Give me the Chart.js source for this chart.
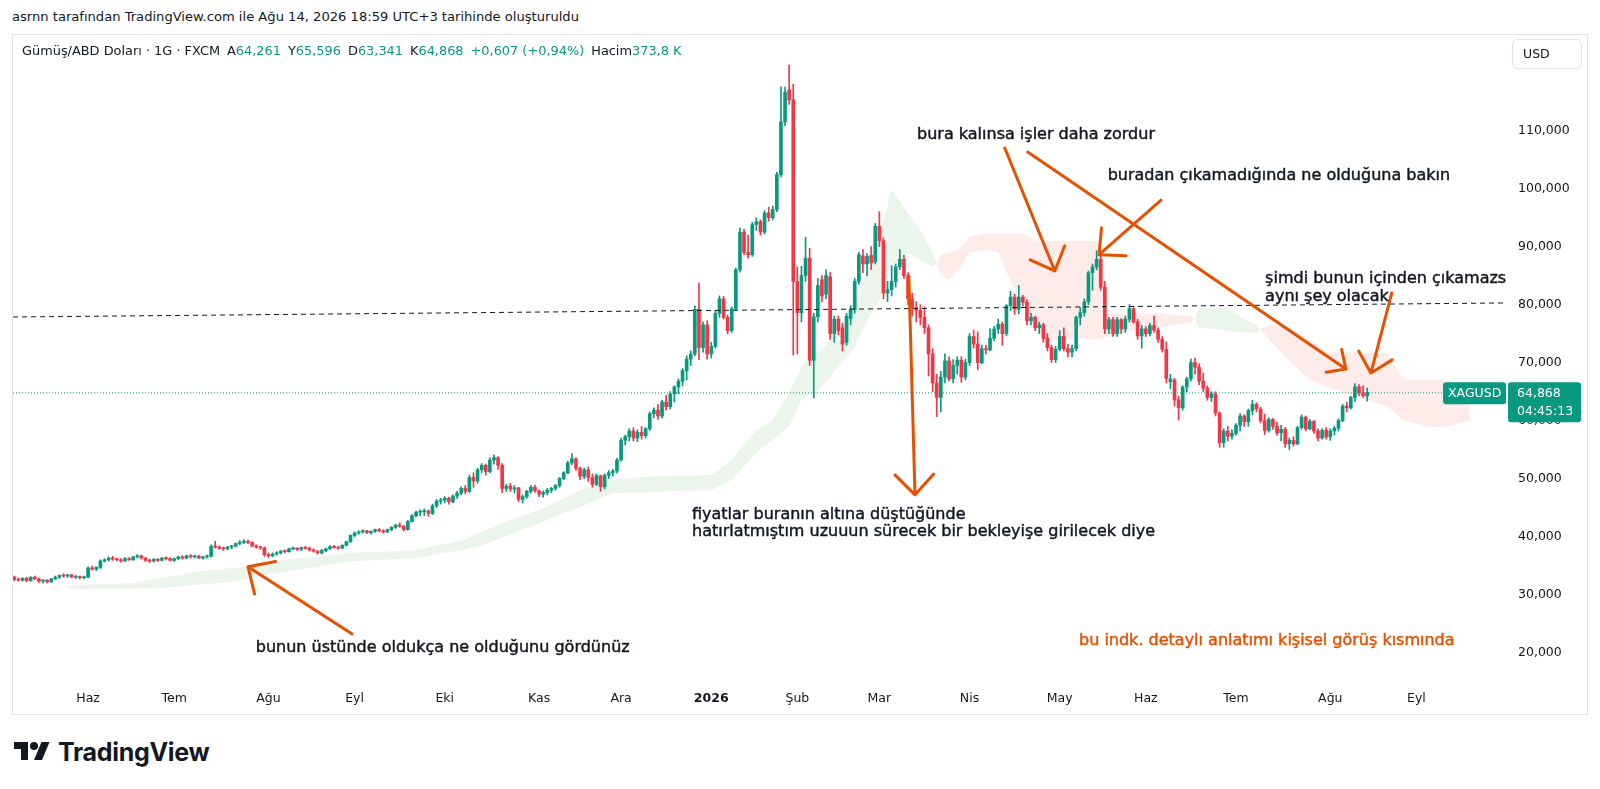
<!DOCTYPE html>
<html lang="tr">
<head>
<meta charset="utf-8">
<title>XAGUSD 1G</title>
<script src="https://cdn.jsdelivr.net/npm/chart.js@4.4.1/dist/chart.umd.min.js"></script>
<style>
  html, body { margin: 0; padding: 0; background: #fff; }
  body { width: 1600px; height: 789px; position: relative; overflow: hidden;
         font-family: "DejaVu Sans", sans-serif; color: #131722; }
  #title { position: absolute; left: 12px; top: 9px; font-size: 13.1px; line-height: 16px; white-space: nowrap; }
  #frame { position: absolute; left: 12px; top: 34px; width: 1576px; height: 681px;
           border: 1px solid #e0e3eb; box-sizing: border-box; }
  #wrap { position: absolute; left: 12px; top: 34px; width: 1576px; height: 681px; }
  #legend { position: absolute; left: 22px; top: 43px; font-size: 12.9px; line-height: 16px; white-space: nowrap; }
  #legend .g { color: #089981; }
  #legend .k { margin-left: 7px; }
  #usd { position: absolute; left: 1512px; top: 39px; width: 70px; height: 30px; box-sizing: border-box;
         border: 1px solid #e0e3eb; border-radius: 5px; font-size: 12.5px; line-height: 28px; padding-left: 10px; }
  #logo { position: absolute; left: 14px; top: 738px; height: 28px; display: flex; align-items: center; }
  #logo span { font-family: Inter, "DejaVu Sans", sans-serif; font-weight: 700; font-size: 25px;
               letter-spacing: -0.3px; margin-left: 8px; color: #131722; }
</style>
</head>
<body>
<div id="title">asrnn tarafından TradingView.com ile Ağu 14, 2026 18:59 UTC+3 tarihinde oluşturuldu</div>
<div id="frame"></div>
<div id="wrap"><canvas id="myChart" width="1576" height="681"></canvas></div>
<div id="legend">Gümüş/ABD Doları · 1G · FXCM<span class="k">A</span><span class="g">64,261</span><span class="k">Y</span><span class="g">65,596</span><span class="k">D</span><span class="g">63,341</span><span class="k">K</span><span class="g">64,868</span><span class="k g">+0,607 (+0,94%)</span><span class="k">Hacim</span><span class="g">373,8 K</span></div>
<div id="usd">USD</div>
<div id="logo">
  <svg width="36" height="28" viewBox="0 0 36 28"><path fill="#131722" d="M14 22H7V11H0V4h14v18zM28 22h-8l7.5-18h8L28 22z"/><circle fill="#131722" cx="20" cy="8" r="4"/></svg>
  <span>TradingView</span>
</div>
<script>
// gunluk mumlar, 7 May 2025 - 14 Agu 2026 (XAGUSD, FXCM)
var opens = [
  33.0,32.6,32.5,32.8,32.4,33.0,32.7,32.3,32.5,32.2, 32.7,33.0,33.3,33.2,33.4,33.0,33.1,32.9,33.0,34.6,
  34.4,34.7,35.8,36.0,36.3,36.1,36.0,35.8,36.2,36.0, 36.5,36.7,36.3,35.9,35.8,36.1,35.9,36.3,36.2,35.9,
  36.2,36.5,36.3,36.7,36.5,36.6,36.3,36.5,36.6,38.3, 38.2,38.0,37.9,38.2,38.4,38.8,39.0,39.2,39.0,38.4,
  38.2,38.1,36.9,36.7,37.0,37.2,37.5,37.4,37.9,38.0, 37.8,38.1,38.0,37.7,37.5,37.2,37.6,37.9,38.3,38.1,
  38.0,38.5,39.1,40.2,40.6,40.8,41.0,40.7,40.9,41.2, 41.0,40.8,41.2,41.6,42.0,41.8,41.2,42.6,43.6,44.2,
  44.3,44.4,44.0,45.3,46.1,46.3,46.6,46.0,47.0,47.5, 48.3,47.8,50.2,49.6,51.5,52.3,51.2,53.2,53.6,52.3,
  48.3,48.7,48.2,48.4,46.4,46.9,47.8,48.5,47.9,47.3, 47.6,48.0,48.3,48.8,50.0,51.0,52.7,53.4,51.8,50.4,
  51.5,50.2,49.0,50.5,48.6,50.6,51.0,51.3,53.2,56.6, 57.2,58.2,57.0,58.0,57.4,58.6,61.2,61.8,60.8,63.2,
  62.4,64.6,65.8,66.8,68.6,70.6,71.5,79.2,72.6,76.5, 71.5,72.8,78.5,81.0,77.8,75.5,79.3,86.0,92.5,89.0,
  88.6,93.8,94.3,92.5,95.8,95.0,96.4,102.4,111.5,117.0, 115.3,84.0,78.6,85.0,88.0,70.4,77.9,84.3,81.8,84.8,
  75.0,77.5,76.0,73.5,77.6,79.2,84.0,88.4,87.0,88.5, 87.4,93.5,91.0,82.0,82.6,84.0,86.5,87.8,85.0,81.0,
  79.5,79.0,77.8,76.0,71.5,66.5,64.0,67.5,70.3,67.2, 69.5,70.4,67.5,70.0,74.5,73.2,70.0,72.4,72.2,74.2,
  75.8,76.6,75.0,79.8,81.3,79.2,81.3,80.4,77.2,77.8, 76.0,76.5,74.2,72.6,70.5,72.3,74.5,72.4,71.8,72.4,
  77.8,78.6,80.5,85.5,86.5,87.8,83.0,75.8,77.4,75.0, 77.4,75.8,77.5,79.3,77.0,74.6,75.8,75.0,76.4,75.6,
  74.0,72.3,66.7,67.0,63.6,62.2,65.8,67.2,70.0,69.2, 66.8,65.6,64.0,64.6,61.3,56.2,58.2,57.3,57.8,59.2,
  60.8,59.8,61.7,62.8,62.0,60.0,58.3,60.2,59.0,57.9, 58.5,56.0,56.6,56.0,58.8,60.6,58.6,59.9,58.2,57.0,
  58.3,57.2,58.2,58.7,60.0,62.5,62.2,64.0,65.8,64.8, 64.261
];
var highs = [
  33.2,32.9,32.9,33.0,33.1,33.2,32.9,32.6,32.6,32.8, 33.2,33.4,33.6,33.5,33.5,33.3,33.2,33.2,34.8,34.9,
  34.8,36.0,36.2,36.5,36.6,36.3,36.2,36.4,36.4,36.6, 36.9,36.8,36.4,36.1,36.2,36.2,36.4,36.5,36.4,36.3,
  36.6,36.7,36.8,36.9,36.8,36.8,36.6,36.8,38.6,39.2, 38.4,38.2,38.3,38.5,38.9,39.3,39.5,39.4,39.1,38.6,
  38.3,38.2,37.2,37.2,37.4,37.6,37.7,38.0,38.2,38.1, 38.2,38.3,38.2,37.9,37.6,37.8,38.0,38.4,38.5,38.3,
  38.6,39.2,40.3,40.8,41.0,41.2,41.1,41.0,41.3,41.4, 41.2,41.3,41.7,42.1,42.4,41.9,42.8,43.8,44.4,44.6,
  44.8,44.6,45.6,46.4,46.6,46.9,46.8,47.2,47.8,48.6, 48.8,50.6,51.0,51.8,52.6,52.5,53.6,54.1,53.8,52.6,
  49.0,49.2,48.8,48.5,47.2,48.0,48.8,48.9,48.0,47.9, 48.3,48.5,49.0,50.2,51.2,53.0,54.3,53.6,52.0,51.8,
  52.0,50.8,50.8,50.6,50.8,51.4,51.6,53.5,57.0,57.5, 58.6,58.8,58.4,59.0,58.8,61.5,62.2,62.8,63.5,64.4,
  65.0,66.0,67.2,69.0,71.2,72.0,79.8,83.7,77.0,77.2, 73.5,79.0,81.5,81.4,78.2,79.6,86.3,93.2,93.0,92.0,
  94.2,95.0,94.6,96.2,96.8,97.0,102.8,117.5,117.5,121.3, 118.0,86.5,86.6,91.6,89.7,78.5,84.5,85.0,86.0,85.5,
  78.0,78.0,76.8,78.5,79.8,84.5,89.0,89.5,88.8,90.0, 94.0,96.0,91.5,84.0,86.7,87.0,89.5,88.5,85.5,82.0,
  80.5,80.0,79.6,76.5,72.4,68.0,68.5,71.5,71.0,70.5, 71.0,71.0,70.6,75.0,75.6,75.3,73.0,73.0,75.8,76.3,
  77.5,77.0,80.0,82.3,81.8,83.3,81.6,80.8,78.5,78.0, 77.0,76.8,75.0,73.0,72.8,75.5,76.0,73.2,73.0,78.0,
  79.5,81.0,85.8,87.0,89.3,88.5,84.0,77.8,77.8,77.8, 77.6,78.0,80.0,79.6,77.5,76.4,76.2,76.8,78.0,76.0,
  74.5,73.6,68.0,67.3,64.2,66.0,67.5,70.6,70.8,69.8, 68.2,66.0,65.0,65.0,61.5,58.6,59.0,58.4,59.5,61.2,
  61.0,62.0,63.5,63.1,62.3,61.1,60.5,60.4,59.7,59.2, 58.8,57.0,57.2,59.0,61.0,60.8,60.2,60.0,58.6,58.6,
  58.8,58.6,59.0,60.3,62.8,63.2,64.2,66.4,66.2,66.0, 65.596
];
var lows = [
  32.4,32.3,32.3,32.2,32.3,32.6,32.1,32.0,32.0,32.1, 32.6,32.8,33.0,33.0,32.9,32.8,32.7,32.7,32.9,34.2,
  34.1,34.5,35.6,35.8,35.9,35.8,35.6,35.7,35.9,35.9, 36.3,36.1,35.7,35.5,35.6,35.7,35.8,36.0,35.8,35.7,
  36.0,36.1,36.2,36.3,36.3,36.2,36.1,36.3,36.5,38.0, 37.8,37.6,37.7,37.9,38.2,38.6,38.8,38.8,38.2,38.0,
  37.8,36.6,36.4,36.5,36.8,37.0,37.2,37.3,37.7,37.6, 37.6,37.8,37.5,37.3,37.0,37.0,37.4,37.8,38.0,37.8,
  37.9,38.4,39.0,40.0,40.4,40.6,40.5,40.4,40.7,40.8, 40.6,40.7,41.0,41.4,41.6,41.0,41.1,42.5,43.4,43.6,
  43.6,43.5,43.8,45.0,45.6,45.8,45.6,45.8,46.6,47.2, 47.4,47.6,48.5,49.2,51.0,50.6,51.0,52.5,51.6,47.6,
  47.8,47.8,47.5,46.0,45.8,46.6,47.5,47.6,46.9,46.8, 47.2,47.6,48.0,48.5,49.8,50.8,52.4,51.4,49.8,50.0,
  49.5,48.5,48.8,47.8,48.2,50.0,50.4,51.0,53.0,55.8, 56.5,56.5,56.4,56.8,57.0,58.3,60.5,60.2,60.4,61.8,
  62.0,63.2,64.6,66.0,67.0,69.5,71.2,70.5,71.8,70.6, 70.8,72.5,77.8,77.5,75.0,75.2,79.0,85.6,88.6,88.0,
  88.3,92.8,92.0,92.2,94.4,94.6,96.0,102.0,110.8,114.5, 71.3,71.5,77.0,84.0,69.5,63.9,77.0,80.5,81.0,74.0,
  73.5,74.8,72.0,73.0,76.5,78.5,83.5,85.5,85.0,86.0, 87.0,90.0,81.0,80.5,81.5,83.0,86.0,84.5,80.0,78.0,
  77.0,76.5,75.0,67.7,65.0,60.7,61.5,66.5,66.8,66.5, 68.0,66.6,67.0,69.5,72.5,68.8,69.8,71.5,72.0,73.8,
  75.0,73.0,74.6,79.0,78.3,78.4,79.8,76.5,76.5,75.5, 75.0,73.5,72.0,70.0,70.0,72.0,72.0,71.0,71.0,72.0,
  76.5,78.0,80.0,82.5,86.0,82.5,75.0,75.0,74.5,74.5, 75.0,75.2,77.0,76.8,74.0,72.5,74.5,74.6,75.2,73.5,
  71.8,66.5,65.5,62.5,60.1,61.8,65.0,66.8,68.0,66.2, 65.0,63.5,63.3,60.8,55.4,55.4,56.5,56.8,57.5,58.2,
  59.0,59.0,61.0,61.5,59.6,57.6,58.0,58.5,57.5,56.5, 55.4,55.0,55.6,55.8,58.5,58.2,58.4,57.8,56.5,56.8,
  56.8,56.6,57.5,58.2,59.8,61.5,62.0,63.3,64.3,64.0, 63.341
];
var closes = [
  32.6,32.5,32.8,32.4,33.0,32.7,32.3,32.5,32.2,32.7, 33.0,33.3,33.2,33.4,33.0,33.1,32.9,33.0,34.6,34.4,
  34.7,35.8,36.0,36.3,36.1,36.0,35.8,36.2,36.0,36.5, 36.7,36.3,35.9,35.8,36.1,35.9,36.3,36.2,35.9,36.2,
  36.5,36.3,36.7,36.5,36.6,36.3,36.5,36.6,38.3,38.2, 38.0,37.9,38.2,38.4,38.8,39.0,39.2,39.0,38.4,38.2,
  38.1,36.9,36.7,37.0,37.2,37.5,37.4,37.9,38.0,37.8, 38.1,38.0,37.7,37.5,37.2,37.6,37.9,38.3,38.1,38.0,
  38.5,39.1,40.2,40.6,40.8,41.0,40.7,40.9,41.2,41.0, 40.8,41.2,41.6,42.0,41.8,41.2,42.6,43.6,44.2,44.3,
  44.4,44.0,45.3,46.1,46.3,46.6,46.0,47.0,47.5,48.3, 47.8,50.2,49.6,51.5,52.3,51.2,53.2,53.6,52.3,48.3,
  48.7,48.2,48.4,46.4,46.9,47.8,48.5,47.9,47.3,47.6, 48.0,48.3,48.8,50.0,51.0,52.7,53.4,51.8,50.4,51.5,
  50.2,49.0,50.5,48.6,50.6,51.0,51.3,53.2,56.6,57.2, 58.2,57.0,58.0,57.4,58.6,61.2,61.8,60.8,63.2,62.4,
  64.6,65.8,66.8,68.6,70.6,71.5,79.2,72.6,76.5,71.5, 72.8,78.5,81.0,77.8,75.5,79.3,86.0,92.5,89.0,88.6,
  93.8,94.3,92.5,95.8,95.0,96.4,102.4,111.5,116.6,115.3, 84.0,78.6,85.0,88.0,70.4,77.9,83.3,81.5,85.0,75.0,
  77.5,75.5,73.2,78.0,79.2,84.0,88.6,87.0,88.3,87.2, 93.5,91.0,82.0,82.6,84.0,86.5,87.8,85.0,81.0,79.5,
  79.0,77.8,76.0,71.5,66.5,64.0,67.5,70.3,67.2,69.5, 70.4,67.5,70.0,74.5,73.2,70.0,72.4,72.2,74.2,75.8,
  76.6,75.0,79.8,81.3,79.2,81.3,80.4,77.2,77.8,76.0, 76.5,74.2,72.6,70.5,72.3,74.5,72.4,71.8,72.4,77.8,
  78.6,80.5,85.5,86.5,87.8,83.0,75.8,77.4,75.0,77.4, 75.8,77.5,79.3,77.0,74.6,75.8,75.0,76.4,75.6,74.0,
  72.3,67.3,67.2,63.6,62.2,65.8,67.2,70.0,69.2,66.8, 65.6,64.0,64.6,61.3,56.2,58.2,57.3,57.8,59.2,60.8,
  59.8,61.7,62.8,62.0,60.0,58.3,60.2,59.0,57.9,58.5, 56.0,56.6,56.0,58.8,60.6,58.6,59.9,58.2,57.0,58.3,
  57.2,58.2,58.7,60.0,62.5,62.2,64.0,65.8,64.8,64.3, 64.868
];

// ichimoku bulutu (senkou A / B), okunan noktalar, mum indeksine gore
var cloudIdx = [9,12,14,29,37,45,53,58,66,74, 82,90,98,110,114,122,130,138,146,154,
  162,170,175,181,185,189,192,197,201,205, 208,211,214,218,221,224,225,226,228,231,
  233,237,240,243,246,249,251,265,266,272, 279,287,288,289,296,300,303,304,306,311,
  316,320,328,335,339,345,350,355];
var spanA = [31.0,31.2,31.6,32.0,33.0,34.0,34.6,34.8,36.0,36.5, 37.2,37.4,37.7,39.5,40.8,43.1,45.1,48.0,49.8,50.3,
  50.5,50.6,53.2,58.4,60.1,64.7,69.3,72.2,75.6,80.8, 85.4,91.7,99.8,95.7,92.9,88.9,87.0,85.0,84.2,86.5,
  89.0,89.4,89.0,84.0,81.0,76.0,74.0,74.0,74.3,75.5, 76.0,77.0,77.5,79.4,79.4,77.5,76.5,75.8,74.0,70.4,
  67.0,65.8,64.0,62.4,60.0,58.9,59.0,60.0];
var spanB = [31.3,31.2,31.0,31.0,31.2,31.7,32.2,32.9,34.0,34.8, 35.7,36.0,36.3,37.8,38.5,40.6,42.9,45.1,47.5,47.6,
  47.9,48.0,49.8,54.4,56.7,59.0,63.6,65.8,69.3,72.7, 77.3,80.8,86.5,88.9,87.7,86.5,87.0,88.6,88.9,90.0,
  91.7,92.3,92.3,92.3,92.3,91.0,91.0,91.0,78.5,78.5, 78.5,78.0,77.5,76.0,75.5,75.2,75.2,75.8,76.5,76.0,
  74.0,71.8,71.8,71.5,67.0,67.0,67.0,64.0];

// kullanicinin cizdigi kesikli yatay cizgi
var trendIdx = [-0.3, 363.4];
var trendVal = [77.86, 80.28];

var yTicks = [20, 30, 40, 50, 60, 70, 80, 90, 100, 110];
var monthNames = ['Oca','Şub','Mar','Nis','May','Haz','Tem','Ağu','Eyl','Eki','Kas','Ara'];

// notlar: [kuyruk idx, kuyruk fiyat, uc idx, uc fiyat, ok ucu boyu]
var arrows = [
  [82.4, 23.2, 57.0, 34.8, 28],
  [241.6, 107.0, 253.8, 85.8, 27],
  [247.2, 106.3, 324.8, 68.9, 20],
  [279.7, 98.0, 264.6, 88.6, 27],
  [336.0, 82.0, 330.9, 68.2, 25],
  [218.2, 84.9, 219.7, 47.2, 28]
];
var notes = [
  [220.2, 109.2, 'bura kalınsa işler daha zordur', '#131722'],
  [266.7, 102.2, 'buradan çıkamadığında ne olduğuna bakın', '#131722'],
  [305.1, 84.4, 'şimdi bunun içinden çıkamazsa', '#131722'],
  [305.1, 81.3, 'aynı şey olacak', '#131722'],
  [165.3, 43.7, 'fiyatlar buranın altına düştüğünde', '#131722'],
  [165.3, 40.8, 'hatırlatmıştım uzuuun sürecek bir bekleyişe girilecek diye', '#131722'],
  [58.9, 20.8, 'bunun üstünde oldukça ne olduğunu gördünüz', '#131722'],
  [259.7, 22.0, 'bu indk. detaylı anlatımı kişisel görüş kısmında', '#e65100']
];

// islem gunleri (hafta sonu, 25 Ara ve 1 Oca yok)
var days = [];
var d = new Date(2025, 4, 7);
while (days.length < 366) {
  var wd = d.getDay();
  var hol = (d.getMonth() === 11 && d.getDate() === 25) || (d.getMonth() === 0 && d.getDate() === 1);
  if (wd !== 0 && wd !== 6 && !hol) days.push(new Date(d));
  d.setDate(d.getDate() + 1);
}
var monthTicks = [];
for (var i = 1; i < days.length; i++) {
  if (days[i].getMonth() !== days[i - 1].getMonth()) monthTicks.push(i);
}

var UP = '#089981', DOWN = '#F23645';
var colors = closes.map(function (c, i) { return c >= opens[i] ? UP : DOWN; });
var bodies = closes.map(function (c, i) { return { x: i, y: [opens[i], c] }; });
var wicks = closes.map(function (c, i) { return { x: i, y: [lows[i], highs[i]] }; });
var lastClose = closes[closes.length - 1];
var lastOpen = opens[opens.length - 1];

Chart.defaults.font.family = '"DejaVu Sans", sans-serif';
Chart.defaults.font.size = 12.5;
Chart.defaults.color = '#131722';

function fmt(v) { return v.toFixed(3).replace('.', ','); }

var notesPlugin = {
  id: 'notes',
  afterDatasetsDraw: function (chart) {
    var ctx = chart.ctx, a = chart.chartArea;
    var xs = chart.scales.x, ys = chart.scales.y;
    ctx.save();
    ctx.beginPath();
    ctx.rect(a.left, a.top, a.right - a.left, a.bottom - a.top);
    ctx.clip();

    // son fiyat noktali cizgi
    var py = ys.getPixelForValue(lastClose);
    ctx.strokeStyle = UP;
    ctx.lineWidth = 1;
    ctx.setLineDash([1, 2]);
    ctx.beginPath();
    ctx.moveTo(a.left, py + 0.5);
    ctx.lineTo(a.right, py + 0.5);
    ctx.stroke();
    ctx.setLineDash([]);

    // oklar
    ctx.strokeStyle = '#e65100';
    ctx.lineWidth = 3;
    ctx.lineCap = 'round';
    ctx.lineJoin = 'round';
    arrows.forEach(function (ar) {
      var x1 = xs.getPixelForValue(ar[0]), y1 = ys.getPixelForValue(ar[1]);
      var x2 = xs.getPixelForValue(ar[2]), y2 = ys.getPixelForValue(ar[3]);
      var ang = Math.atan2(y1 - y2, x1 - x2), len = ar[4], spread = 0.76;
      ctx.beginPath();
      ctx.moveTo(x1, y1);
      ctx.lineTo(x2, y2);
      ctx.moveTo(x2 + len * Math.cos(ang + spread), y2 + len * Math.sin(ang + spread));
      ctx.lineTo(x2, y2);
      ctx.lineTo(x2 + len * Math.cos(ang - spread), y2 + len * Math.sin(ang - spread));
      ctx.stroke();
    });

    // yazilar
    ctx.font = '16px "DejaVu Sans", sans-serif';
    ctx.textBaseline = 'middle';
    ctx.textAlign = 'left';
    ctx.lineWidth = 0.45;
    ctx.lineJoin = 'round';
    notes.forEach(function (n) {
      var tx = xs.getPixelForValue(n[0]), ty = ys.getPixelForValue(n[1]);
      ctx.fillStyle = n[3];
      ctx.strokeStyle = n[3];
      ctx.fillText(n[2], tx, ty);
      ctx.strokeText(n[2], tx, ty);
    });
    ctx.restore();
  },
  afterDraw: function (chart) {
    var ctx = chart.ctx, a = chart.chartArea;
    var py = chart.scales.y.getPixelForValue(lastClose);
    var col = lastClose >= lastOpen ? UP : DOWN;
    ctx.save();
    ctx.fillStyle = col;
    ctx.beginPath();
    ctx.roundRect(a.right - 64, py - 10, 63, 22, 3);
    ctx.fill();
    ctx.beginPath();
    ctx.roundRect(a.right + 1, py - 10, 73, 40, 3);
    ctx.fill();
    ctx.fillStyle = '#fff';
    ctx.textBaseline = 'middle';
    ctx.textAlign = 'left';
    ctx.font = '12.5px "DejaVu Sans", sans-serif';
    ctx.fillText('XAGUSD', a.right - 59, py + 1);
    ctx.fillText(fmt(lastClose), a.right + 10, py + 1);
    ctx.fillText('04:45:13', a.right + 10, py + 19);
    ctx.restore();
  }
};

var ctx = document.getElementById('myChart').getContext('2d');
var myChart = new Chart(ctx, {
  type: 'bar',
  data: {
    datasets: [
      {
        label: 'fitil',
        data: wicks,
        backgroundColor: colors,
        barThickness: 1,
        grouped: false,
        order: 2
      },
      {
        label: 'govde',
        data: bodies,
        backgroundColor: colors,
        barThickness: 3,
        minBarLength: 1,
        grouped: false,
        order: 1
      },
      {
        type: 'line',
        label: 'Senkou A',
        data: cloudIdx.map(function (x, i) { return { x: x, y: spanA[i] }; }),
        borderColor: 'transparent',
        borderWidth: 0,
        pointRadius: 0,
        tension: 0,
        fill: { target: '+1', above: 'rgba(67,160,71,0.1)', below: 'rgba(244,67,54,0.1)' },
        order: 10
      },
      {
        type: 'line',
        label: 'Senkou B',
        data: cloudIdx.map(function (x, i) { return { x: x, y: spanB[i] }; }),
        borderColor: 'transparent',
        borderWidth: 0,
        pointRadius: 0,
        tension: 0,
        fill: false,
        order: 11
      },
      {
        type: 'line',
        label: 'yatay',
        data: trendIdx.map(function (x, i) { return { x: x, y: trendVal[i] }; }),
        borderColor: '#131722',
        borderWidth: 1,
        borderDash: [5, 4],
        pointRadius: 0,
        fill: false,
        order: 0
      }
    ]
  },
  options: {
    responsive: false,
    animation: false,
    layout: { padding: { left: 1, top: 1, right: 0, bottom: 0 } },
    plugins: {
      legend: { display: false },
      tooltip: { enabled: false }
    },
    scales: {
      x: {
        type: 'linear',
        min: -0.32,
        max: 364.1,
        offset: false,
        grid: { display: false, drawTicks: false },
        border: { display: false },
        afterFit: function (s) { s.height = 32; s.paddingLeft = 0; s.paddingRight = 0; },
        afterBuildTicks: function (s) {
          s.ticks = monthTicks.filter(function (i) { return i < 360; }).map(function (i) { return { value: i }; });
        },
        ticks: {
          autoSkip: false,
          maxRotation: 0,
          padding: 8,
          font: function (c) {
            var v = c.tick && c.tick.value;
            var bold = v !== undefined && days[v] && days[v].getMonth() === 0;
            return { size: 12.5, weight: bold ? 'bold' : 'normal' };
          },
          callback: function (v) {
            var dd = days[v];
            if (!dd) return '';
            return dd.getMonth() === 0 ? String(dd.getFullYear()) : monthNames[dd.getMonth()];
          }
        }
      },
      y: {
        position: 'right',
        min: 14.76,
        max: 126.48,
        grid: { display: false, drawTicks: false },
        border: { display: false },
        afterFit: function (s) { s.width = 81; s.paddingTop = 0; s.paddingBottom = 0; },
        afterBuildTicks: function (s) {
          s.ticks = yTicks.map(function (v) { return { value: v }; });
        },
        ticks: {
          padding: 11,
          callback: function (v) { return fmt(v); }
        }
      }
    }
  },
  plugins: [notesPlugin]
});
</script>
</body>
</html>
